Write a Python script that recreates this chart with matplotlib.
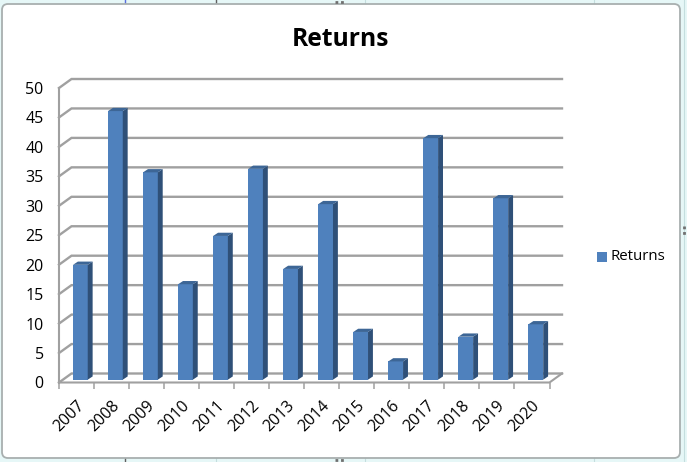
import matplotlib
matplotlib.use("Agg")
import matplotlib.pyplot as plt
from matplotlib.patches import Polygon, FancyBboxPatch, Rectangle

years = ["2007", "2008", "2009", "2010", "2011", "2012", "2013", "2014", "2015", "2016", "2017", "2018", "2019", "2020"]
returns = [19.5, 45.6, 35.2, 16.2, 24.4, 35.8, 18.8, 29.8, 8.1, 3.1, 41.0, 7.3, 30.8, 9.4]
y_ticks = [0, 5, 10, 15, 20, 25, 30, 35, 40, 45, 50]

W, H = 687, 462
FACE = "#4f81bd"
SIDE = "#2f5078"
TOP = "#3d6696"
GRID = "#a0a0a0"
SHEET = "#e6f7f7"
CELL = "#c4dede"

plt.rcParams["font.family"] = ["Open Sans", "DejaVu Sans"]


def px_axes(fig, left, top, right, bottom):
    return fig.add_axes([left / W, 1 - bottom / H, (right - left) / W, (bottom - top) / H])


def bar_3d(ax, x, value, width, base, dx, dy):
    ax.add_patch(Rectangle((x, base), width, value, fc=FACE, ec="none", zorder=3))
    ax.add_patch(Polygon([(x + width, base), (x + width + dx, base + dy), (x + width + dx, base + value + dy), (x + width, base + value)],
                         fc=SIDE, ec="none", zorder=3))
    ax.add_patch(Polygon([(x, base + value), (x + dx, base + value + dy), (x + width + dx, base + value + dy), (x + width, base + value)],
                         fc=TOP, ec="none", zorder=3))


def main():
    fig = plt.figure(figsize=(W / 100, H / 100), dpi=100)
    fig.patch.set_facecolor(SHEET)

    # worksheet behind the chart
    bg = fig.add_axes([0, 0, 1, 1])
    bg.set_xlim(0, W)
    bg.set_ylim(H, 0)
    bg.set_axis_off()
    for cx in [125, 216, 365, 594, 684]:
        bg.plot([cx, cx], [0, H], color=CELL, lw=0.8)
    bg.plot([125, 125], [0, 4], color="#5a6ee0", lw=1)
    bg.plot([216, 216], [0, 4], color="#606060", lw=1)
    bg.plot([125, 125], [458, 462], color="#606060", lw=1)
    bg.add_patch(FancyBboxPatch((8, 10), 666, 442, boxstyle="round,pad=6,rounding_size=6",
                                fc="white", ec="#a8afaf", lw=1.3, zorder=2))
    for hx in [340]:
        bg.plot([hx - 5, hx + 5], [2, 2], color="#707070", lw=2, ls=(0, (1, 1)), zorder=3)
        bg.plot([hx - 5, hx + 5], [460, 460], color="#707070", lw=2, ls=(0, (1, 1)), zorder=3)
    bg.plot([684, 684], [226, 236], color="#707070", lw=2, ls=(0, (1, 1)), zorder=3)

    # axes spans the front plane of the 3d box
    ax = px_axes(fig, 59, 88, 549.5, 382.5)
    ax.set_xlim(0, len(years))
    ax.set_ylim(0, 50)
    ax.patch.set_alpha(0)
    for s in ax.spines.values():
        s.set_visible(False)

    dx = 12.5 / 35.04
    dy = 9 / 5.89

    # back wall gridlines and diagonals
    for t in y_ticks:
        ax.plot([0, dx, len(years) + dx], [t, t + dy, t + dy], color=GRID, lw=1.7, clip_on=False, zorder=1,
                solid_joinstyle="miter")
    ax.plot([0, 0], [0, 50], color=GRID, lw=1.5, clip_on=False, zorder=1)
    ax.plot([0, len(years), len(years) + dx], [0, 0, dy], color=GRID, lw=1.5, clip_on=False, zorder=1)

    for i, v in enumerate(returns):
        bar_3d(ax, i + 0.4, v, 0.42, 0.48, 0.14, 0.55)

    ax.set_xticks(range(len(years) + 1))
    ax.set_xticklabels([])
    ax.tick_params(axis="x", length=4.5, width=1.1, color=GRID, pad=0)
    ax.set_yticks(y_ticks)
    ax.tick_params(axis="y", length=0, labelsize=11.5, pad=11)
    for i, y in enumerate(years):
        ax.annotate(y, (i + 0.5, 0), xytext=(4, -15), textcoords="offset points", rotation=45,
                    rotation_mode="anchor", ha="right", va="center", fontsize=11.5, annotation_clip=False)

    fig.text(340 / W, 1 - 46 / H, "Returns", ha="center", va="baseline", fontsize=17.7, fontweight="bold")

    bg.add_patch(Rectangle((597, 252), 9.5, 9.5, fc=FACE, ec="none", zorder=3))
    bg.text(610, 257, "Returns", ha="left", va="center", fontsize=10.8, zorder=3)

    fig.savefig("out.png", dpi=100, facecolor=fig.get_facecolor())


if __name__ == "__main__":
    main()
